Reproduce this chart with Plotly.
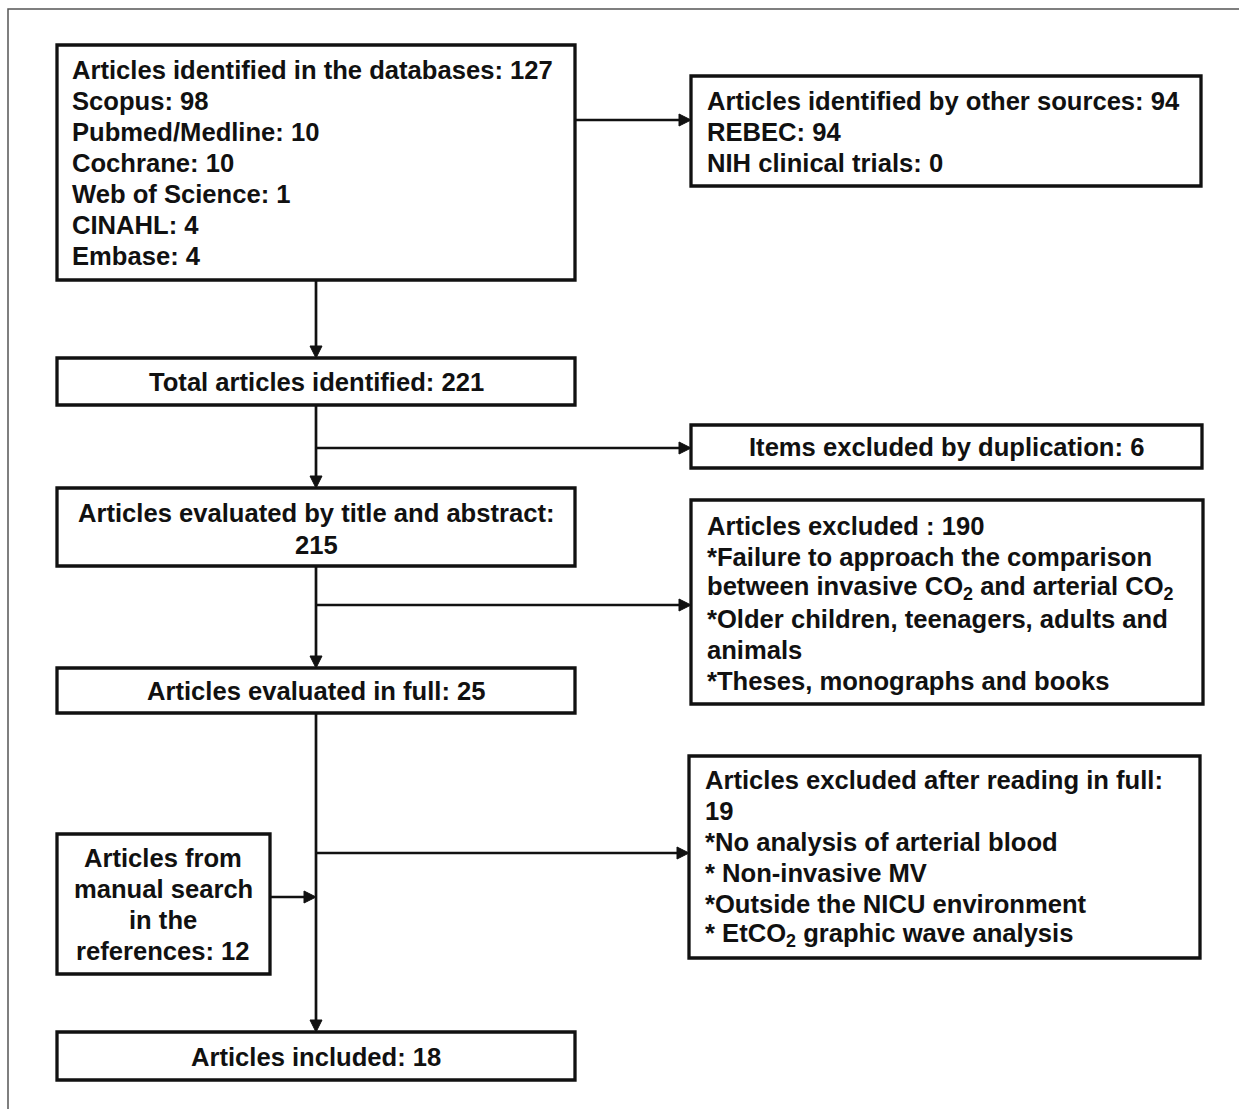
import plotly.graph_objects as go

# ---- data (counts shown in the flow diagram) ----
db_sources = ["Scopus", "Pubmed/Medline", "Cochrane", "Web of Science", "CINAHL", "Embase"]
db_counts = [98, 10, 10, 1, 4, 4]
db_total = 127
other_sources = ["REBEC", "NIH clinical trials"]
other_counts = [94, 0]
other_total = 94
total_identified = 221
duplicates = 6
screened = 215
excluded_screen = 190
full_text = 25
excluded_full = 19
manual_search = 12
included = 18

W, H = 1239, 1109
FONT = "Liberation Sans, Arial, sans-serif"
FS = 25.6
BLACK = "#111111"

fig = go.Figure()
shapes = []
annotations = []


def box(x0, y0, x1, y1):
    shapes.append(dict(type="rect", xref="x", yref="y", x0=x0, y0=y0, x1=x1, y1=y1,
                       line=dict(color=BLACK, width=3.3), fillcolor="white", layer="below"))


def line(x0, y0, x1, y1):
    shapes.append(dict(type="line", xref="x", yref="y", x0=x0, y0=y0, x1=x1, y1=y1,
                       line=dict(color=BLACK, width=2.7)))


def arrow(x0, y0, x1, y1, L=12, hw=6):
    # shaft + filled triangular head
    if x0 == x1:  # vertical, pointing down
        line(x0, y0, x1, y1 - L + 1)
        path = f"M {x1 - hw},{y1 - L} L {x1 + hw},{y1 - L} L {x1},{y1} Z"
    else:  # horizontal, pointing right
        line(x0, y0, x1 - L + 1, y1)
        path = f"M {x1 - L},{y1 - hw} L {x1 - L},{y1 + hw} L {x1},{y1} Z"
    shapes.append(dict(type="path", xref="x", yref="y", path=path,
                       fillcolor=BLACK, line=dict(color=BLACK, width=1)))


def text(x, y, s, anchor="left"):
    annotations.append(dict(x=x, y=y, xref="x", yref="y", text="<b>" + s + "</b>", showarrow=False,
                            xanchor=anchor, yanchor="middle", align=anchor,
                            font=dict(family=FONT, size=FS, color=BLACK)))


# outer frame
shapes.append(dict(type="rect", xref="x", yref="y", x0=8, y0=9, x1=W + 10, y1=H + 10,
                   line=dict(color="#555555", width=1.5), layer="below"))

# box 1: databases
box(57, 45, 575, 280)
lines1 = [f"Articles identified in the databases: {db_total}"] + [f"{s}: {c}" for s, c in zip(db_sources, db_counts)]
for i, s in enumerate(lines1):
    text(70, 70 + 31 * i, s)

# box 2: other sources
box(691, 76, 1201, 186)
lines2 = [f"Articles identified by other sources: {other_total}"] + [f"{s}: {c}" for s, c in zip(other_sources, other_counts)]
for i, s in enumerate(lines2):
    text(705, 101 + 31 * i, s)
arrow(575, 120, 691, 120)

# total identified
arrow(316, 280, 316, 358)
box(57, 358, 575, 405)
text(316, 382, f"Total articles identified: {total_identified}", "center")

# duplicates
arrow(316, 405, 316, 488)
arrow(316, 448, 691, 448)
box(691, 425, 1202, 468)
text(946, 447, f"Items excluded by duplication: {duplicates}", "center")

# screened
box(57, 488, 575, 566)
text(316, 513, "Articles evaluated by title and abstract:", "center")
text(316, 545, f"{screened}", "center")

# excluded screening
arrow(316, 566, 316, 668)
arrow(316, 605, 691, 605)
box(691, 500, 1203, 704)
lines3 = [f"Articles excluded : {excluded_screen}",
          "*Failure to approach the comparison",
          "between invasive CO<sub>2</sub> and arterial CO<sub>2</sub>",
          "*Older children, teenagers, adults and",
          "animals",
          "*Theses, monographs and books"]
for i, s in enumerate(lines3):
    text(705, 526 + 31 * i, s)

# full text
box(57, 668, 575, 713)
text(316, 691, f"Articles evaluated in full: {full_text}", "center")

# excluded full
arrow(316, 713, 316, 1032)
arrow(316, 853, 689, 853)
box(689, 756, 1200, 958)
lines4 = ["Articles excluded after reading in full:",
          f"{excluded_full}",
          "*No analysis of arterial blood",
          "* Non-invasive MV",
          "*Outside the NICU environment",
          "* EtCO<sub>2</sub> graphic wave analysis"]
for i, s in enumerate(lines4):
    text(703, 780 + 31 * i, s)

# manual search
box(57, 834, 270, 974)
lines5 = ["Articles from", "manual search", "in the", f"references: {manual_search}"]
for i, s in enumerate(lines5):
    text(163, 858 + 31 * i, s, "center")
arrow(270, 897, 316, 897)

# included
box(57, 1032, 575, 1080)
text(316, 1057, f"Articles included: {included}", "center")

fig.update_layout(
    width=W, height=H, margin=dict(l=0, r=0, t=0, b=0),
    paper_bgcolor="white", plot_bgcolor="white",
    xaxis=dict(range=[0, W], visible=False, fixedrange=True),
    yaxis=dict(range=[H, 0], visible=False, fixedrange=True),
    shapes=shapes, annotations=annotations, showlegend=False,
)
fig.write_html("out.html", config={"displayModeBar": False},
               post_script="document.body.style.margin='0';")
